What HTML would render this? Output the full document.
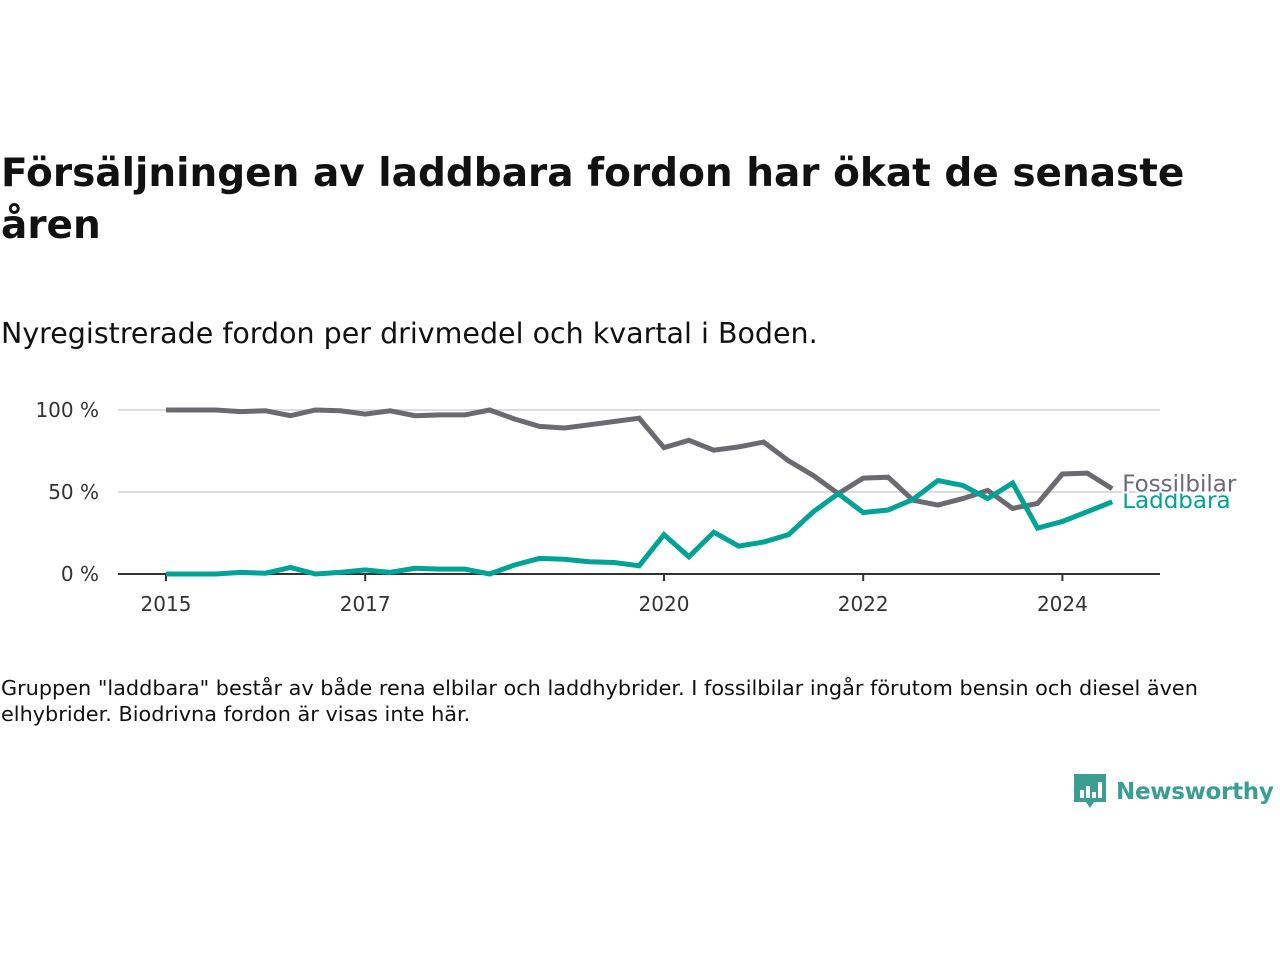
<!DOCTYPE html>
<html><head><meta charset="utf-8">
<style>
body{margin:0;width:1280px;height:960px;background:#fff;font-family:"DejaVu Sans","Liberation Sans",sans-serif;color:#111;position:relative;overflow:hidden}
h1{position:absolute;left:1px;top:148px;margin:0;font-size:39px;line-height:52px;font-weight:bold;color:#111;white-space:nowrap}
.sub{position:absolute;left:1px;top:317px;font-size:28.5px;color:#111;white-space:nowrap}
.note{position:absolute;left:1px;top:675px;font-size:20.8px;line-height:26px;color:#111;white-space:nowrap}
.logo{position:absolute;left:1072px;top:772px;display:flex;align-items:center;gap:8px;color:#3a9e92;font-size:23px;font-weight:bold;letter-spacing:-0.3px}
svg text{font-family:"DejaVu Sans","Liberation Sans",sans-serif}
</style></head><body>
<h1>Försäljningen av laddbara fordon har ökat de senaste<br>åren</h1>
<div class="sub">Nyregistrerade fordon per drivmedel och kvartal i Boden.</div>
<svg id="chart" width="1280" height="960" style="position:absolute;left:0;top:0"></svg>
<div class="note">Gruppen "laddbara" består av både rena elbilar och laddhybrider. I fossilbilar ingår förutom bensin och diesel även<br>elhybrider. Biodrivna fordon är visas inte här.</div>
<div class="logo">
<svg width="36" height="40" viewBox="0 0 36 40"><path d="M2 2h32v28H22l-4 6-4-6H2z" fill="#3a9e92"/><rect x="8" y="18" width="4" height="8" fill="#fff"/><rect x="14" y="14" width="4" height="12" fill="#fff"/><rect x="20" y="20" width="4" height="6" fill="#fff"/><rect x="26" y="10" width="4" height="16" fill="#fff"/></svg>
<span>Newsworthy</span></div>
<script>
const years=[2015,2017,2020,2022,2024];
const yTicks=[0,50,100];
const yTickLabels=["0 %","50 %","100 %"];
const fossil=[100,100,100,99,99.5,96.5,100,99.5,97.5,99.5,96.5,97,97,100,94.5,90,89,91,93,95,77,81.5,75.5,77.5,80.5,69,60,49,58.5,59,45,42,46,51,40,43,61,61.5,52];
const laddbara=[0,0,0,1,0.5,4,0,1,2.5,1,3.5,3,3,0,5.5,9.5,9,7.5,7,5,24,10.5,25.5,17,19.5,24,38,49,37.5,39,45.5,57,54,46,55.5,28,32,38,44];
const seriesNames=["Fossilbilar","Laddbara"];
const NS="http://www.w3.org/2000/svg";
const svg=document.getElementById('chart');
const x=t=>166+(t-2015)*99.6;
const y=v=>574-v*1.64;
function mk(tag,attrs){const e=document.createElementNS(NS,tag);for(const k in attrs)e.setAttribute(k,attrs[k]);svg.appendChild(e);return e;}
yTicks.forEach((v,i)=>{
  if(v>0){const g=mk('line',{x1:118,x2:1160,y1:y(v),y2:y(v),stroke:'#ddd','stroke-width':2});
  
  }
  const t=mk('text',{x:99,y:y(v)+7,'text-anchor':'end','font-size':20,fill:'#333'});t.textContent=yTickLabels[i];
  
  
});
const ax=mk('line',{x1:118,x2:1160,y1:574,y2:574,stroke:'#333','stroke-width':2});


years.forEach(yr=>{
  const tk=mk('line',{x1:x(yr),x2:x(yr),y1:574,y2:581,stroke:'#333','stroke-width':2});
  
  
  const t=mk('text',{x:x(yr),y:611,'text-anchor':'middle','font-size':20,fill:'#333'});t.textContent=yr;
  
  
});
function line(data,color,name){
  const pts=data.map((v,i)=>x(2015+i/4).toFixed(1)+','+y(v).toFixed(1)).join(' ');
  const p=mk('polyline',{points:pts,fill:'none',stroke:color,'stroke-width':5,'stroke-linejoin':'miter'});
  
  
}
line(fossil,'#6b6a70','fossilbilar-line');
line(laddbara,'#00a396','laddbara-line');
const lastX=x(2015+(fossil.length-1)/4);
const l2=mk('text',{x:lastX+10,y:y(laddbara[laddbara.length-1])+6,'font-size':23,fill:'#00a396'});l2.textContent=seriesNames[1];


const l1=mk('text',{x:lastX+10,y:y(fossil[fossil.length-1])+3,'font-size':23,fill:'#6b6a70',stroke:'#fff','stroke-width':4,'paint-order':'stroke'});l1.textContent=seriesNames[0];


</script>
</body></html>
